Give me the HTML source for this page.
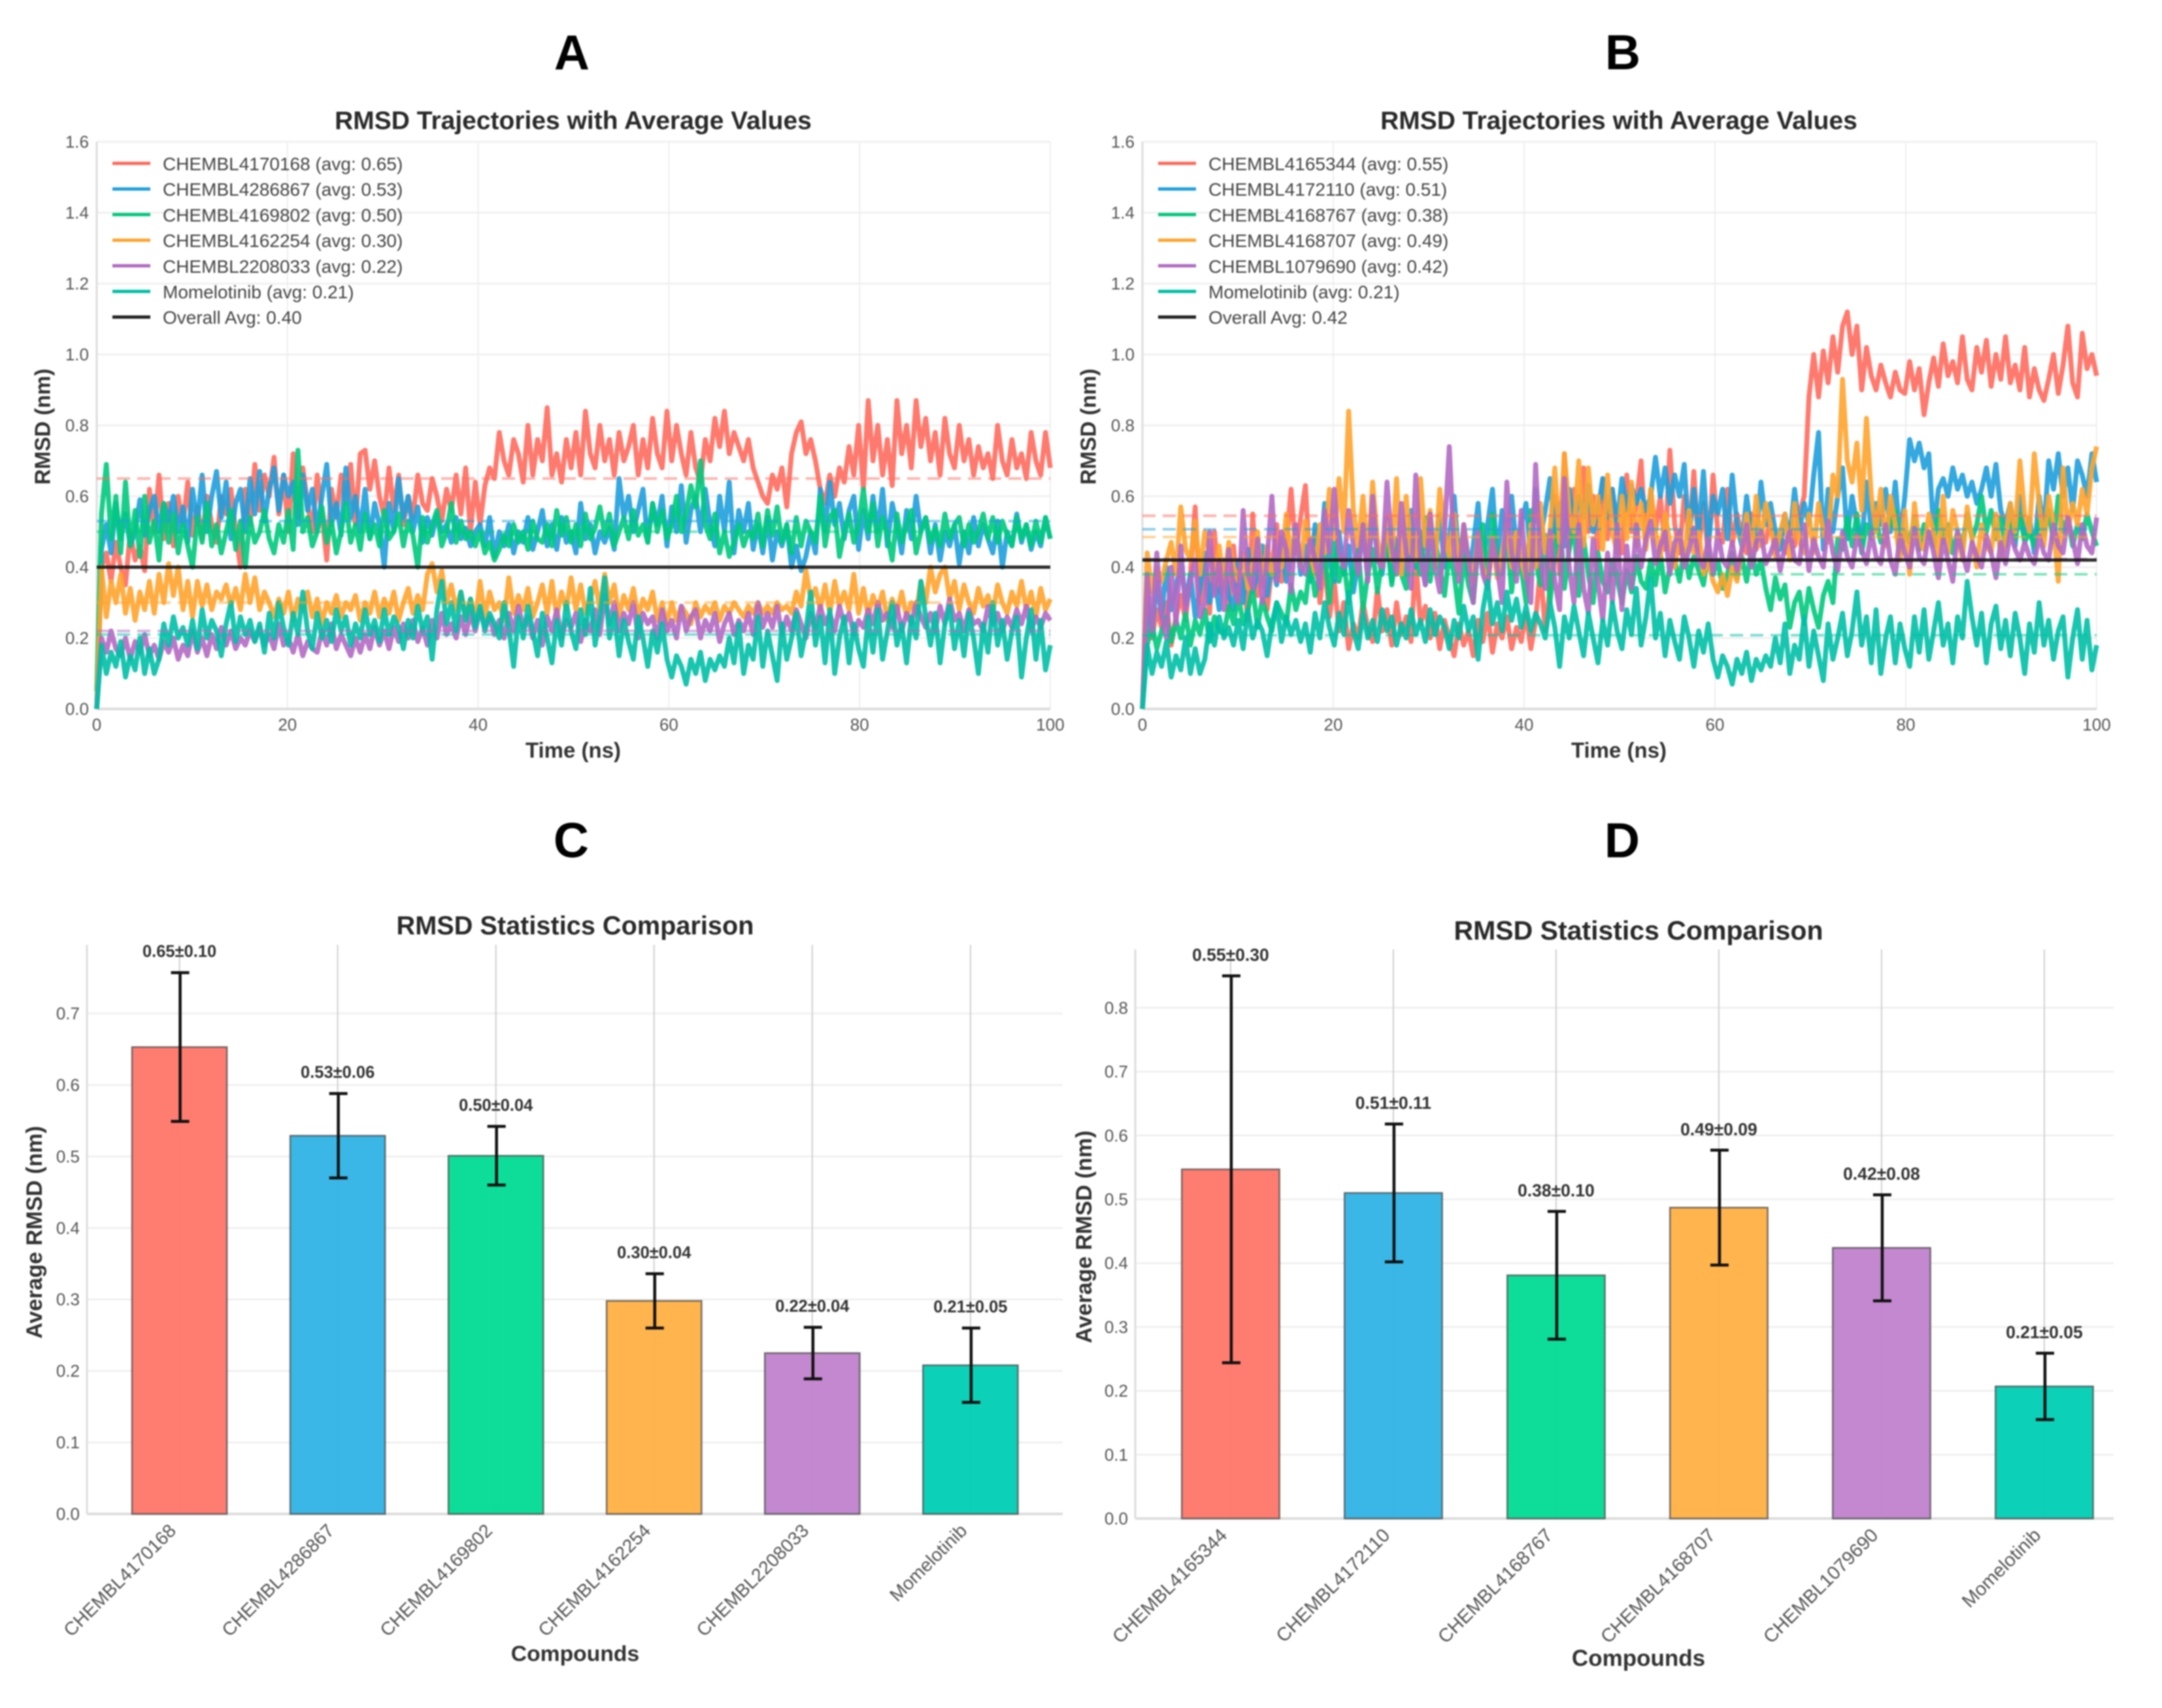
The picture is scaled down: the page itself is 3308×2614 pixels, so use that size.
<!DOCTYPE html>
<html lang="en">
<head>
<meta charset="utf-8">
<title>RMSD Trajectories and Statistics</title>
<style>
html,body{margin:0;padding:0;background:#fff}
#figure{display:block;filter:blur(1.1px);font-family:"Liberation Sans",sans-serif}
</style>
</head>
<body>
<svg id="figure" xmlns="http://www.w3.org/2000/svg" width="3308" height="2614" viewBox="0 0 3308 2614">
<rect width="3308" height="2614" fill="#fff"/>
</svg>
<script>
/* ---------- shared ticks ---------- */
const timeTicks = [0,20,40,60,80,100];
const rmsdTicks = [0,0.2,0.4,0.6,0.8,1.0,1.2,1.4,1.6];
const barTicksC = [0,0.1,0.2,0.3,0.4,0.5,0.6,0.7];
const barTicksD = [0,0.1,0.2,0.3,0.4,0.5,0.6,0.7,0.8];

/* ---------- panel A values ---------- */
const compoundsA = ["CHEMBL4170168","CHEMBL4286867","CHEMBL4169802","CHEMBL4162254","CHEMBL2208033","Momelotinib"];
const averagesA = [0.65,0.53,0.50,0.30,0.22,0.21];
const overallAvgA = 0.40;
const rmsdA1 = [.00,.40,.44,.36,.47,.40,.35,.50,.42,.46,.39,.62,.50,.66,.48,.58,.46,.60,.52,.64,
.49,.57,.48,.60,.52,.47,.60,.55,.62,.50,.40,.62,.52,.69,.56,.66,.60,.71,.55,.66,
.50,.72,.54,.68,.58,.50,.66,.55,.42,.62,.54,.66,.58,.69,.52,.72,.73,.62,.70,.60,
.54,.68,.56,.66,.52,.60,.54,.66,.58,.56,.65,.60,.53,.62,.56,.66,.55,.68,.50,.64,
.52,.63,.68,.65,.78,.70,.66,.76,.72,.64,.80,.66,.76,.70,.85,.66,.72,.64,.76,.68,
.78,.66,.84,.72,.68,.80,.70,.76,.66,.78,.70,.74,.80,.66,.76,.68,.82,.72,.68,.84,
.70,.80,.72,.66,.78,.68,.64,.76,.70,.82,.74,.84,.72,.78,.74,.70,.76,.68,.64,.60,
.58,.66,.62,.68,.57,.72,.78,.81,.72,.76,.70,.62,.58,.66,.60,.68,.64,.74,.66,.80,
.62,.87,.70,.80,.66,.76,.63,.87,.72,.80,.68,.87,.74,.82,.70,.78,.66,.82,.72,.68,
.80,.70,.76,.66,.74,.68,.72,.65,.80,.70,.66,.76,.68,.72,.65,.78,.70,.66,.78,.68];
const rmsdA2 = [.00,.45,.52,.44,.58,.48,.55,.46,.50,.59,.49,.56,.60,.50,.58,.53,.60,.50,.57,.47,
.62,.52,.66,.50,.60,.67,.54,.64,.48,.58,.62,.50,.65,.55,.67,.53,.62,.68,.56,.66,
.60,.64,.52,.66,.56,.62,.50,.60,.69,.52,.58,.49,.68,.54,.60,.50,.62,.48,.58,.52,
.40,.58,.50,.65,.54,.60,.50,.57,.47,.54,.49,.55,.50,.52,.47,.54,.48,.51,.46,.50,
.52,.46,.54,.43,.50,.46,.52,.44,.50,.47,.54,.45,.50,.56,.46,.52,.45,.54,.47,.50,
.44,.58,.48,.52,.44,.50,.47,.51,.45,.65,.54,.60,.50,.56,.62,.47,.58,.52,.60,.46,
.57,.50,.63,.47,.56,.60,.50,.62,.52,.46,.60,.50,.64,.44,.56,.50,.58,.45,.52,.44,
.54,.42,.50,.46,.52,.40,.46,.39,.43,.50,.44,.62,.50,.64,.52,.58,.48,.56,.60,.45,
.56,.48,.60,.50,.62,.46,.58,.52,.44,.56,.48,.60,.50,.54,.44,.52,.42,.50,.46,.52,
.41,.50,.44,.54,.46,.52,.48,.44,.53,.40,.50,.46,.55,.47,.52,.45,.50,.46,.54,.48];
const rmsdA3 = [.05,.55,.69,.48,.60,.44,.64,.46,.56,.43,.60,.47,.53,.42,.58,.47,.55,.44,.52,.46,
.40,.54,.47,.58,.46,.52,.44,.50,.56,.45,.53,.40,.54,.47,.50,.56,.48,.44,.52,.47,
.56,.45,.73,.50,.54,.46,.50,.57,.47,.53,.44,.50,.58,.47,.52,.45,.55,.48,.52,.46,
.56,.48,.50,.55,.46,.53,.49,.40,.54,.47,.52,.56,.46,.50,.58,.47,.53,.48,.50,.46,
.50,.44,.47,.42,.45,.49,.46,.52,.47,.50,.45,.53,.48,.47,.52,.46,.56,.49,.54,.47,
.52,.46,.55,.48,.51,.57,.49,.55,.46,.50,.54,.48,.56,.49,.52,.47,.58,.50,.56,.48,
.52,.60,.50,.55,.63,.57,.70,.52,.48,.55,.44,.50,.43,.47,.52,.46,.50,.48,.55,.46,
.56,.49,.57,.47,.52,.44,.54,.46,.53,.50,.47,.60,.46,.54,.56,.43,.50,.55,.47,.52,
.62,.50,.58,.46,.54,.49,.42,.55,.47,.52,.56,.44,.50,.54,.47,.51,.46,.55,.48,.52,
.54,.46,.52,.47,.50,.55,.48,.54,.47,.53,.49,.46,.54,.48,.52,.46,.53,.47,.54,.48];
const rmsdA4 = [.00,.40,.26,.36,.30,.38,.27,.34,.25,.33,.28,.36,.27,.38,.30,.41,.32,.40,.28,.36,
.26,.36,.29,.35,.28,.33,.31,.35,.29,.34,.28,.38,.30,.37,.28,.33,.30,.26,.31,.27,
.33,.25,.31,.28,.33,.26,.31,.24,.30,.27,.32,.26,.30,.28,.32,.25,.30,.27,.33,.26,
.31,.27,.33,.25,.30,.34,.27,.32,.28,.38,.41,.33,.39,.30,.35,.28,.33,.26,.31,.25,
.36,.26,.33,.28,.30,.25,.37,.27,.32,.28,.34,.26,.30,.35,.27,.36,.26,.33,.28,.37,
.28,.35,.27,.31,.36,.28,.38,.30,.35,.26,.32,.28,.34,.26,.31,.28,.33,.25,.30,.24,
.30,.25,.29,.27,.24,.30,.26,.29,.27,.30,.25,.29,.27,.30,.28,.26,.29,.27,.30,.27,
.29,.27,.30,.28,.29,.27,.33,.29,.39,.31,.34,.28,.35,.27,.36,.29,.33,.28,.38,.27,
.34,.26,.32,.28,.33,.25,.31,.27,.33,.26,.30,.27,.36,.30,.40,.33,.38,.40,.31,.36,
.28,.35,.30,.27,.34,.29,.32,.27,.35,.30,.27,.33,.29,.36,.28,.33,.26,.34,.28,.31];
const rmsdA5 = [.00,.20,.16,.22,.17,.15,.20,.14,.19,.16,.21,.15,.18,.14,.19,.16,.20,.14,.18,.15,
.22,.16,.20,.15,.21,.17,.23,.18,.22,.17,.20,.18,.22,.19,.23,.18,.21,.17,.24,.18,
.20,.16,.21,.15,.19,.17,.16,.22,.18,.24,.17,.21,.18,.15,.20,.16,.21,.17,.23,.18,
.22,.17,.23,.19,.24,.20,.25,.19,.23,.18,.25,.20,.27,.21,.24,.20,.26,.21,.27,.22,
.28,.23,.26,.21,.25,.20,.27,.22,.29,.23,.26,.20,.25,.18,.26,.22,.28,.20,.25,.23,
.27,.19,.25,.22,.28,.21,.32,.24,.30,.22,.27,.24,.30,.20,.27,.24,.26,.20,.28,.22,
.25,.20,.29,.22,.26,.28,.20,.25,.22,.27,.19,.24,.27,.21,.25,.22,.27,.21,.30,.23,
.27,.23,.29,.21,.26,.22,.28,.24,.20,.27,.23,.29,.24,.27,.22,.29,.24,.27,.21,.25,
.23,.28,.24,.30,.25,.27,.23,.29,.22,.27,.24,.30,.26,.23,.27,.22,.29,.24,.31,.25,
.27,.22,.28,.24,.25,.22,.29,.24,.27,.22,.26,.23,.28,.24,.29,.22,.26,.23,.27,.25];
const rmsdMomelotinib = [.00,.18,.10,.16,.12,.19,.09,.15,.11,.20,.10,.17,.10,.14,.24,.18,.26,.20,.23,.18,
.25,.17,.28,.20,.25,.22,.15,.24,.30,.19,.26,.21,.25,.19,.24,.16,.27,.20,.30,.23,
.18,.27,.21,.33,.22,.17,.27,.20,.25,.19,.28,.22,.26,.18,.24,.20,.28,.21,.25,.19,
.28,.21,.26,.23,.17,.25,.20,.29,.22,.26,.14,.28,.36,.24,.30,.22,.33,.25,.31,.23,
.29,.22,.27,.24,.20,.30,.23,.12,.26,.20,.29,.22,.15,.27,.20,.13,.25,.18,.30,.22,
.17,.28,.21,.34,.18,.26,.37,.20,.27,.15,.25,.19,.14,.26,.20,.12,.22,.16,.24,.14,
.09,.15,.12,.07,.14,.10,.16,.08,.14,.11,.15,.12,.20,.13,.24,.10,.18,.14,.26,.12,
.22,.15,.08,.24,.14,.20,.27,.15,.22,.33,.18,.26,.13,.28,.10,.20,.26,.13,.24,.17,
.12,.26,.16,.28,.14,.22,.30,.18,.24,.13,.26,.20,.36,.26,.18,.27,.13,.24,.29,.17,
.25,.15,.27,.20,.10,.24,.16,.30,.18,.25,.14,.22,.26,.09,.20,.28,.14,.25,.11,.18];

/* ---------- panel B values ---------- */
const compoundsB = ["CHEMBL4165344","CHEMBL4172110","CHEMBL4168767","CHEMBL4168707","CHEMBL1079690","Momelotinib"];
const averagesB = [0.55,0.51,0.38,0.49,0.42,0.21];
const averageLinesB = [0.545,0.507,0.38,0.485,0.423,0.208];
const overallAvgB = 0.42;
const rmsdB1 = [.00,.34,.20,.28,.23,.30,.18,.26,.32,.25,.38,.57,.30,.42,.27,.50,.33,.42,.28,.46,
.30,.38,.25,.55,.32,.44,.28,.40,.52,.36,.46,.62,.44,.54,.63,.38,.50,.30,.42,.26,
.36,.22,.30,.17,.24,.20,.30,.23,.19,.34,.22,.28,.18,.30,.21,.26,.19,.42,.24,.29,
.20,.27,.17,.25,.20,.15,.24,.18,.22,.15,.25,.19,.27,.16,.24,.20,.26,.17,.23,.19,
.27,.17,.25,.40,.22,.34,.60,.38,.72,.45,.62,.42,.68,.50,.60,.45,.65,.48,.62,.50,
.44,.66,.50,.58,.70,.46,.62,.50,.60,.45,.73,.52,.44,.60,.48,.67,.45,.58,.43,.66,
.50,.47,.62,.46,.55,.49,.44,.55,.45,.50,.47,.54,.44,.50,.44,.52,.46,.55,.60,.88,
1.0,.88,1.01,.92,1.05,.95,1.08,1.12,1.0,1.08,.90,1.02,.94,.90,.97,.92,.88,.95,.90,.89,
.98,.90,.96,.83,.92,.99,.91,1.03,.94,.98,.92,1.05,.93,.90,1.02,.95,1.04,.91,1.0,.93,
1.05,.92,.97,.90,1.02,.88,.96,.90,.87,.93,1.0,.89,.97,1.08,.92,.88,1.06,.96,1.0,.94];
const rmsdB2 = [.00,.30,.22,.36,.26,.40,.28,.34,.42,.30,.38,.26,.34,.44,.30,.38,.28,.42,.32,.28,
.42,.30,.45,.33,.38,.46,.32,.42,.35,.48,.36,.44,.50,.38,.46,.36,.52,.40,.58,.42,
.36,.50,.38,.46,.33,.42,.52,.37,.55,.44,.38,.50,.36,.48,.42,.38,.56,.40,.50,.35,
.50,.42,.55,.40,.48,.60,.42,.50,.38,.46,.58,.40,.52,.62,.42,.56,.48,.60,.45,.52,
.58,.43,.62,.48,.56,.65,.50,.58,.46,.62,.52,.60,.54,.63,.50,.56,.65,.54,.62,.52,
.65,.56,.63,.58,.62,.56,.60,.71,.60,.68,.58,.66,.60,.69,.48,.62,.50,.67,.46,.60,
.55,.62,.48,.66,.52,.46,.60,.50,.47,.64,.52,.58,.50,.45,.55,.48,.62,.50,.58,.52,
.66,.78,.45,.62,.50,.60,.68,.48,.60,.52,.46,.64,.50,.58,.52,.62,.50,.64,.48,.60,
.76,.70,.75,.68,.72,.50,.62,.65,.60,.68,.62,.66,.60,.64,.58,.62,.68,.60,.69,.56,
.52,.58,.46,.60,.48,.54,.44,.60,.50,.70,.62,.72,.60,.68,.56,.70,.66,.60,.72,.64];
const rmsdB3 = [.00,.18,.24,.17,.22,.26,.19,.25,.20,.27,.18,.25,.21,.28,.19,.26,.22,.21,.29,.24,
.32,.24,.28,.34,.23,.31,.26,.22,.30,.27,.24,.35,.28,.33,.30,.42,.32,.38,.44,.30,
.47,.36,.42,.30,.40,.45,.28,.38,.45,.33,.42,.48,.35,.46,.38,.34,.50,.42,.38,.54,
.36,.48,.40,.32,.44,.38,.27,.43,.35,.30,.46,.52,.35,.55,.42,.38,.50,.33,.46,.40,
.30,.56,.42,.35,.49,.30,.44,.55,.34,.45,.52,.32,.48,.38,.30,.44,.36,.33,.42,.37,
.30,.39,.33,.43,.36,.34,.42,.35,.44,.33,.40,.42,.36,.45,.37,.43,.39,.35,.44,.38,
.42,.34,.38,.44,.37,.43,.36,.45,.38,.42,.34,.28,.37,.31,.35,.23,.30,.33,.24,.34,
.28,.23,.32,.36,.30,.48,.45,.54,.46,.55,.44,.52,.48,.53,.47,.50,.52,.56,.44,.50,
.47,.54,.45,.52,.49,.46,.56,.47,.52,.44,.50,.46,.55,.48,.52,.60,.50,.56,.48,.54,
.46,.52,.48,.55,.47,.50,.46,.53,.49,.56,.47,.60,.50,.54,.46,.52,.48,.55,.50,.46];
const rmsdB4 = [.00,.44,.33,.40,.36,.42,.47,.38,.57,.45,.42,.53,.38,.50,.44,.36,.46,.35,.47,.40,
.36,.44,.34,.41,.50,.35,.46,.38,.43,.40,.55,.42,.50,.40,.53,.44,.38,.52,.44,.62,
.48,.65,.50,.84,.56,.46,.60,.42,.64,.48,.40,.54,.42,.65,.38,.60,.44,.42,.65,.46,
.56,.40,.62,.50,.43,.55,.38,.52,.42,.36,.50,.40,.35,.48,.37,.44,.52,.40,.50,.42,
.37,.52,.40,.58,.44,.50,.68,.47,.72,.55,.50,.70,.46,.68,.52,.60,.45,.66,.50,.44,
.60,.48,.64,.46,.58,.45,.62,.50,.43,.55,.47,.40,.50,.42,.56,.44,.50,.38,.42,.36,
.33,.38,.32,.40,.36,.45,.55,.44,.60,.46,.58,.52,.43,.50,.55,.42,.58,.47,.44,.55,
.44,.58,.50,.47,.66,.60,.93,.70,.64,.75,.56,.82,.60,.50,.62,.46,.60,.52,.42,.56,
.38,.58,.47,.45,.55,.50,.42,.60,.44,.56,.50,.42,.57,.48,.40,.52,.46,.44,.55,.43,
.48,.58,.50,.70,.55,.50,.72,.58,.46,.60,.52,.36,.68,.50,.58,.52,.62,.55,.68,.74];
const rmsdB5 = [.00,.38,.22,.44,.26,.20,.40,.24,.46,.28,.36,.42,.26,.30,.50,.32,.42,.28,.45,.34,
.30,.56,.38,.34,.48,.30,.42,.60,.36,.50,.45,.33,.52,.40,.38,.48,.42,.34,.56,.44,
.62,.44,.40,.56,.46,.38,.52,.36,.60,.42,.40,.64,.46,.38,.58,.44,.34,.66,.42,.35,
.55,.40,.33,.50,.74,.44,.36,.52,.42,.30,.50,.38,.34,.48,.40,.30,.64,.44,.36,.56,
.38,.30,.69,.42,.34,.50,.36,.28,.65,.40,.30,.52,.34,.27,.48,.36,.25,.44,.30,.52,
.28,.46,.34,.52,.40,.48,.53,.41,.46,.50,.38,.47,.50,.40,.45,.51,.42,.40,.48,.38,
.50,.42,.40,.47,.39,.45,.52,.40,.47,.50,.41,.44,.48,.39,.46,.50,.42,.41,.52,.39,
.48,.43,.40,.53,.44,.39,.50,.43,.40,.49,.45,.41,.50,.43,.41,.52,.42,.38,.49,.44,
.40,.51,.43,.41,.50,.44,.37,.48,.42,.36,.50,.44,.39,.47,.43,.40,.49,.44,.37,.47,
.41,.50,.45,.42,.47,.43,.41,.49,.44,.42,.52,.46,.44,.54,.48,.41,.52,.46,.44,.54];

/* ---------- panel C / D values ---------- */
const barMeansC = [0.653,0.529,0.501,0.298,0.225,0.208];
const barErrorsC = [0.104,0.059,0.041,0.038,0.036,0.052];
const barTextC = ["0.65±0.10","0.53±0.06","0.50±0.04","0.30±0.04","0.22±0.04","0.21±0.05"];
const barMeansD = [0.547,0.510,0.381,0.487,0.424,0.207];
const barErrorsD = [0.303,0.108,0.100,0.090,0.083,0.052];
const barTextD = ["0.55±0.30","0.51±0.11","0.38±0.10","0.49±0.09","0.42±0.08","0.21±0.05"];

/* ---------- styles ---------- */
const lineColors = ["#FF6B5E","#1E9FDC","#00C97D","#FFA42E","#B269C3","#00BFA6"];
const barColors = ["#FF7569","#2FB3E5","#00DB94","#FFB043","#C082CC","#00CDB4"];
const svg = document.getElementById('figure');
const NS = 'http://www.w3.org/2000/svg';

function mk(tag, attrs, name, parent) {
  const el = document.createElementNS(NS, tag);
  for (const k in attrs) el.setAttribute(k, attrs[k]);
  
  
  (parent || svg).appendChild(el);
  return el;
}
function label(x, y, str, size, opts, name, parent) {
  const o = opts || {};
  const attrs = {x:x, y:y, 'font-size':size, fill:o.fill||'#444', 'text-anchor':o.anchor||'middle', 'dominant-baseline':'central'};
  if (o.bold) attrs['font-weight'] = 'bold';
  if (o.rotate !== undefined) attrs.transform = 'rotate(' + o.rotate + ' ' + x + ' ' + y + ')';
  const t = mk('text', attrs, name, parent);
  t.textContent = str;
  return t;
}
function scale(d0, d1, r0, r1) { return v => r0 + (v - d0) / (d1 - d0) * (r1 - r0); }

/* ---------- line panels ---------- */
function trajectoryPanel(id, box, titleX, compounds, averages, avgLines, overall, seriesList) {
  const g = mk('g', {}, 'panel-' + id);
  const xT = scale(0, 100, box.left, box.right);
  const yV = scale(0, 1.6, box.bottom, box.top);
  timeTicks.forEach(t => {
    mk('line', {x1:xT(t), x2:xT(t), y1:box.top, y2:box.bottom, stroke:'#eeeeee', 'stroke-width':2}, 'x-gridline', g);
    label(xT(t), box.bottom + 24, String(t), 26, {fill:'#555'}, 'x-tick-label', g);
  });
  rmsdTicks.forEach(v => {
    mk('line', {x1:box.left, x2:box.right, y1:yV(v), y2:yV(v), stroke:'#eeeeee', 'stroke-width':2.5}, 'y-gridline', g);
    label(box.left - 12, yV(v), v.toFixed(1), 26, {anchor:'end', fill:'#555'}, 'y-tick-label', g);
  });
  mk('line', {x1:box.left, x2:box.left, y1:box.top, y2:box.bottom, stroke:'#dddddd', 'stroke-width':3}, 'y-axis-spine', g);
  mk('line', {x1:box.left, x2:box.right, y1:box.bottom, y2:box.bottom, stroke:'#dddddd', 'stroke-width':4}, 'x-axis-spine', g);
  seriesList.forEach((vals, s) => {
    const pts = vals.map((v, i) => xT(i * 100 / (vals.length - 1)).toFixed(1) + ',' + yV(v).toFixed(1)).join(' ');
    mk('polyline', {points:pts, fill:'none', stroke:lineColors[s], 'stroke-width':7.5, 'stroke-opacity':0.9, 'stroke-linejoin':'round'}, 'trajectory-' + compounds[s].toLowerCase(), g);
  });
  avgLines.forEach((v, s) => {
    mk('line', {x1:box.left, x2:box.right, y1:yV(v), y2:yV(v), stroke:lineColors[s], 'stroke-width':4, 'stroke-opacity':0.5, 'stroke-dasharray':'20 11'}, 'average-line-' + compounds[s].toLowerCase(), g);
  });
  mk('line', {x1:box.left, x2:box.right, y1:yV(overall), y2:yV(overall), stroke:'#111', 'stroke-width':5, 'stroke-opacity':0.88}, 'overall-average-line', g);
  label(titleX, 185, 'RMSD Trajectories with Average Values', 39, {bold:true, fill:'#2a2a2a'}, 'chart-title', g);
  label(titleX, 1148, 'Time (ns)', 33, {bold:true, fill:'#333'}, 'x-axis-title', g);
  label(box.left - 83, 653, 'RMSD (nm)', 33, {bold:true, fill:'#333', rotate:-90}, 'y-axis-title', g);
  const legend = mk('g', {}, 'legend', g);
  compounds.forEach((c, s) => {
    const ly = 250 + s * 39.2;
    mk('line', {x1:box.left + 24, x2:box.left + 82, y1:ly, y2:ly, stroke:lineColors[s], 'stroke-width':5}, 'legend-swatch', legend);
    label(box.left + 101, ly + 1, c + ' (avg: ' + averages[s].toFixed(2) + ')', 28, {anchor:'start', fill:'#444'}, 'legend-entry', legend);
  });
  const ly = 250 + 6 * 39.2;
  mk('line', {x1:box.left + 24, x2:box.left + 82, y1:ly, y2:ly, stroke:'#222', 'stroke-width':5}, 'legend-swatch', legend);
  label(box.left + 101, ly + 1, 'Overall Avg: ' + overall.toFixed(2), 28, {anchor:'start', fill:'#444'}, 'legend-entry', legend);
}

/* ---------- bar panels ---------- */
function barPanel(id, box, xDomain, yMax, ticks, names, means, errors, texts, layout) {
  const g = mk('g', {}, 'panel-' + id);
  const xC = scale(xDomain[0], xDomain[1], box.left, box.right);
  const yV = scale(0, yMax, box.bottom, box.top);
  const barHalf = (xC(1) - xC(0)) * 0.3;
  ticks.forEach(v => {
    mk('line', {x1:box.left, x2:box.right, y1:yV(v), y2:yV(v), stroke:'#eeeeee', 'stroke-width':2.5}, 'y-gridline', g);
    label(box.left - 11, yV(v), v.toFixed(1), 26, {anchor:'end', fill:'#555'}, 'y-tick-label', g);
  });
  names.forEach((n, i) => {
    mk('line', {x1:xC(i), x2:xC(i), y1:box.top, y2:box.bottom, stroke:'#cfcfcf', 'stroke-width':2}, 'x-gridline', g);
  });
  mk('line', {x1:box.left, x2:box.left, y1:box.top, y2:box.bottom, stroke:'#dddddd', 'stroke-width':3}, 'y-axis-spine', g);
  mk('line', {x1:box.left, x2:box.right, y1:box.bottom, y2:box.bottom, stroke:'#dddddd', 'stroke-width':4}, 'x-axis-spine', g);
  names.forEach((n, i) => {
    const cx = xC(i);
    mk('rect', {x:cx - barHalf, y:yV(means[i]), width:barHalf * 2, height:box.bottom - yV(means[i]), fill:barColors[i], 'fill-opacity':0.95, stroke:'#4a4a4a', 'stroke-opacity':0.75, 'stroke-width':2.5}, 'bar-' + n.toLowerCase(), g);
    const top = yV(means[i] + errors[i]), bot = yV(means[i] - errors[i]);
    mk('line', {x1:cx + 1, x2:cx + 1, y1:top, y2:bot, stroke:'#111', 'stroke-width':4.5}, 'error-bar', g);
    mk('line', {x1:cx - 13, x2:cx + 15, y1:top, y2:top, stroke:'#111', 'stroke-width':4.5}, 'error-cap-top', g);
    mk('line', {x1:cx - 13, x2:cx + 15, y1:bot, y2:bot, stroke:'#111', 'stroke-width':4.5}, 'error-cap-bottom', g);
    label(cx, top - 32, texts[i], layout.valueSize, {bold:true, fill:'#333'}, 'bar-value-label', g);
    label(cx - 10, box.bottom + 21, n, layout.tickSize, {anchor:'end', fill:'#555', rotate:-45}, 'x-tick-label', g);
  });
  label(layout.titleX, layout.titleY, 'RMSD Statistics Comparison', layout.titleSize, {bold:true, fill:'#2a2a2a'}, 'chart-title', g);
  label(layout.titleX, layout.xTitleY, 'Compounds', layout.xTitleSize, {bold:true, fill:'#333'}, 'x-axis-title', g);
  label(layout.yTitleX, layout.yTitleY, 'Average RMSD (nm)', 34, {bold:true, fill:'#333', rotate:-90}, 'y-axis-title', g);
}

/* ---------- panel letters ---------- */
label(875, 80, 'A', 75, {bold:true, fill:'#000'}, 'panel-letter-a');
label(2483, 80, 'B', 75, {bold:true, fill:'#000'}, 'panel-letter-b');
label(874, 1286, 'C', 75, {bold:true, fill:'#000'}, 'panel-letter-c');
label(2482, 1286, 'D', 75, {bold:true, fill:'#000'}, 'panel-letter-d');

trajectoryPanel('a', {left:148, right:1607, top:217, bottom:1085}, 877, compoundsA, averagesA, averagesA, overallAvgA, [rmsdA1,rmsdA2,rmsdA3,rmsdA4,rmsdA5,rmsdMomelotinib]);
trajectoryPanel('b', {left:1748, right:3208, top:217, bottom:1085}, 2477, compoundsB, averagesB, averageLinesB, overallAvgB, [rmsdB1,rmsdB2,rmsdB3,rmsdB4,rmsdB5,rmsdMomelotinib]);
barPanel('c', {left:133, right:1626, top:1446, bottom:2317}, [-0.585,5.583], 0.796, barTicksC, compoundsA, barMeansC, barErrorsC, barTextC,
  {titleX:880, titleY:1417, titleSize:39.7, xTitleY:2531, xTitleSize:33.7, yTitleX:53, yTitleY:1886, valueSize:25.5, tickSize:28.4});
barPanel('d', {left:1737, right:3234, top:1453, bottom:2324}, [-0.586,5.426], 0.8915, barTicksD, compoundsB, barMeansD, barErrorsD, barTextD,
  {titleX:2507, titleY:1424, titleSize:41, xTitleY:2538, xTitleSize:35, yTitleX:1659, yTitleY:1893, valueSize:26.5, tickSize:29});
</script>
</body>
</html>
